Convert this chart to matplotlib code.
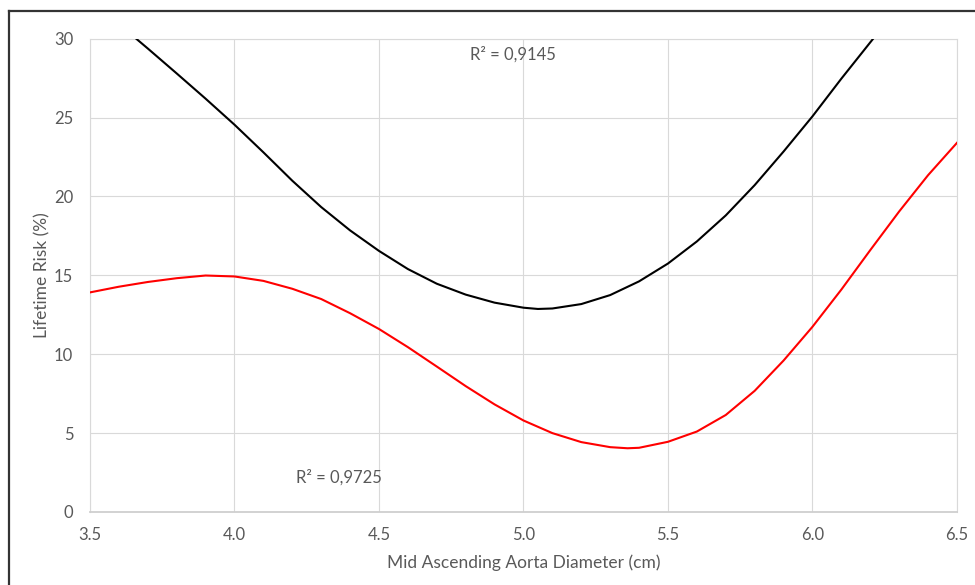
import matplotlib
matplotlib.use("Agg")
from matplotlib import pyplot as plt
from matplotlib.lines import Line2D

plt.rcParams['font.family'] = ['Lato', 'DejaVu Sans']

# trend lines
black_x = [3.66, 3.7, 3.8, 3.9, 4.0, 4.1, 4.2, 4.3, 4.4, 4.5, 4.6, 4.7, 4.8, 4.9,
           5.0, 5.05, 5.1, 5.2, 5.3, 5.4, 5.5, 5.6, 5.7, 5.8, 5.9, 6.0, 6.1, 6.21]
black_y = [30.0, 29.38, 27.8, 26.2, 24.55, 22.8, 21.0, 19.33, 17.85, 16.55, 15.4, 14.47, 13.78, 13.27,
           12.95, 12.87, 12.9, 13.18, 13.75, 14.62, 15.75, 17.15, 18.8, 20.72, 22.85, 25.08, 27.47, 30.0]

red_x = [3.5, 3.6, 3.7, 3.8, 3.9, 4.0, 4.1, 4.2, 4.3, 4.4, 4.5, 4.6, 4.7, 4.8, 4.9, 5.0,
         5.1, 5.2, 5.3, 5.36, 5.4, 5.5, 5.6, 5.7, 5.8, 5.9, 6.0, 6.1, 6.2, 6.3, 6.4, 6.5]
red_y = [13.92, 14.28, 14.58, 14.82, 14.99, 14.93, 14.65, 14.15, 13.5, 12.6, 11.6, 10.45, 9.22, 7.98, 6.82, 5.8,
         5.0, 4.43, 4.11, 4.04, 4.07, 4.45, 5.1, 6.15, 7.68, 9.6, 11.74, 14.1, 16.6, 19.05, 21.35, 23.4]

x_ticks = [3.5, 4.0, 4.5, 5.0, 5.5, 6.0, 6.5]
y_ticks = [0, 5, 10, 15, 20, 25, 30]

label_black = "R² = 0,9145"
label_red = "R² = 0,9725"

grey_text = "#595959"
grid_col = "#d9d9d9"

fig = plt.figure(figsize=(9.75, 5.85), dpi=100)
ax = fig.add_axes([0.0923, 0.1248, 0.8892, 0.809])

ax.plot(black_x, black_y, color="black", linewidth=1.5, solid_joinstyle="round", zorder=3)
ax.plot(red_x, red_y, color="#ff0000", linewidth=1.5, solid_joinstyle="round", zorder=3)

ax.set_xlim(3.5, 6.5)
ax.set_ylim(0, 30)
ax.set_xticks(x_ticks)
ax.set_xticklabels(["%.1f" % v for v in x_ticks])
ax.set_yticks(y_ticks)

ax.grid(True, color=grid_col, linewidth=0.8)
ax.set_axisbelow(True)
ax.tick_params(length=0, labelsize=12, labelcolor=grey_text)
ax.tick_params(axis="y", pad=12)
ax.tick_params(axis="x", pad=11)
for side in ["left", "top", "right"]:
    ax.spines[side].set_color(grid_col)
    ax.spines[side].set_linewidth(0.8)
ax.spines["bottom"].set_color("#cfcfcf")
ax.spines["bottom"].set_linewidth(1.3)

ax.text(4.815, 29.0, label_black, color=grey_text, fontsize=12, va="center", ha="left")
ax.text(4.213, 2.18, label_red, color=grey_text, fontsize=12, va="center", ha="left")

fig.text(0.043, 0.529, "Lifetime Risk (%)", rotation=90, ha="center", va="center",
         color=grey_text, fontsize=12.5)
fig.text(0.537, 0.0376, "Mid Ascending Aorta Diameter (cm)", ha="center", va="center",
         color=grey_text, fontsize=12.5)

# outer chart border
fig.add_artist(Line2D([0.0092, 0.0092], [0.0, 0.9812], color="#333333", linewidth=1.6))
fig.add_artist(Line2D([0.0092, 1.0], [0.9812, 0.9812], color="#333333", linewidth=1.6))

fig.savefig("out.png", dpi=100)
